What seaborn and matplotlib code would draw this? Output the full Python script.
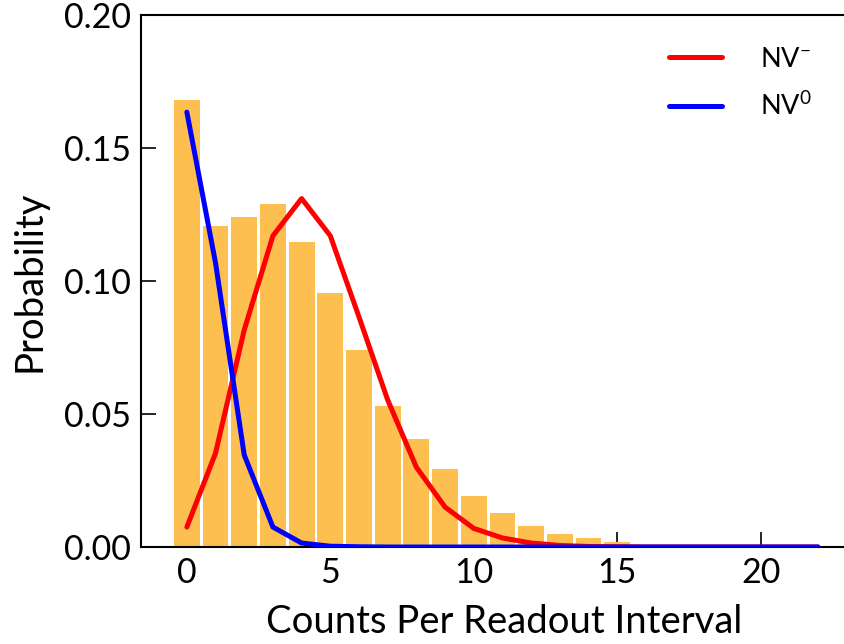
import numpy as np
import pandas as pd
import matplotlib
matplotlib.use("Agg")
import matplotlib.pyplot as plt
import seaborn as sns

counts = list(range(23))
hist_prob = [0.168, 0.1205, 0.124, 0.129, 0.1148, 0.0955, 0.074, 0.053, 0.0406,
             0.0293, 0.0192, 0.0128, 0.0079, 0.0049, 0.0034, 0.0019, 0.0008,
             0.0004, 0.0002, 0.0001, 0.0001, 0.0, 0.0]
nv_minus = [0.0075, 0.0353, 0.0816, 0.117, 0.131, 0.117, 0.0865, 0.0553, 0.030,
            0.015, 0.007, 0.0034, 0.0015, 0.0006, 0.0002, 0.0001, 0.0, 0.0,
            0.0, 0.0, 0.0, 0.0, 0.0]
nv_zero = [0.1635, 0.1068, 0.0346, 0.0075, 0.0015, 0.0003, 0.0001, 0.0, 0.0,
           0.0, 0.0, 0.0, 0.0, 0.0, 0.0, 0.0, 0.0, 0.0, 0.0, 0.0, 0.0, 0.0, 0.0]
series_labels = ["NV$^{-}$", "NV$^{0}$"]

sns.set_style("white")
plt.rcParams['font.family'] = ['Lato', 'DejaVu Sans']
plt.rcParams['mathtext.fontset'] = 'custom'
plt.rcParams['mathtext.rm'] = 'Lato'
plt.rcParams['mathtext.it'] = 'Lato:italic'
for k in ['text.color', 'axes.labelcolor', 'xtick.color', 'ytick.color']:
    plt.rcParams[k] = 'black'

fig = plt.figure(figsize=(8.44, 6.44), dpi=100)
ax = fig.add_axes([0.167, 0.1506, 0.86, 0.8261])

df = pd.DataFrame({"counts": counts, "prob": hist_prob,
                   "nvm": nv_minus, "nv0": nv_zero})

sns.barplot(data=df, x="counts", y="prob", native_scale=True, width=0.9,
            color="#FDBF50", saturation=1, ax=ax, zorder=1, edgecolor="none")
sns.lineplot(data=df, x="counts", y="nvm", color="red", lw=3.6, ax=ax,
             label=series_labels[0], zorder=3)
sns.lineplot(data=df, x="counts", y="nv0", color="blue", lw=3.6, ax=ax,
             label=series_labels[1], zorder=3)

ax.set_xlim(-1.6, 23.7)
ax.set_ylim(0, 0.2)
ax.set_xticks([0, 5, 10, 15, 20])
ax.set_yticks([0, 0.05, 0.10, 0.15, 0.20])
ax.set_yticklabels(["0.00", "0.05", "0.10", "0.15", "0.20"])
ax.set_xlabel("Counts Per Readout Interval", fontsize=27.5, labelpad=11)
ax.set_ylabel("Probability", fontsize=27.5, labelpad=12)
ax.tick_params(axis="both", direction="in", length=11, width=1.2,
               labelsize=24.5, pad=7, bottom=True, left=True)
for s in ax.spines.values():
    s.set_linewidth(1.5)
    s.set_color("black")

leg = ax.legend(loc="upper right", bbox_to_anchor=(0.924, 0.94), frameon=False,
                fontsize=19.5, handlelength=1.95, handletextpad=1.4,
                labelspacing=0.75, borderpad=0, borderaxespad=0)

fig.savefig("out.png", dpi=100)
